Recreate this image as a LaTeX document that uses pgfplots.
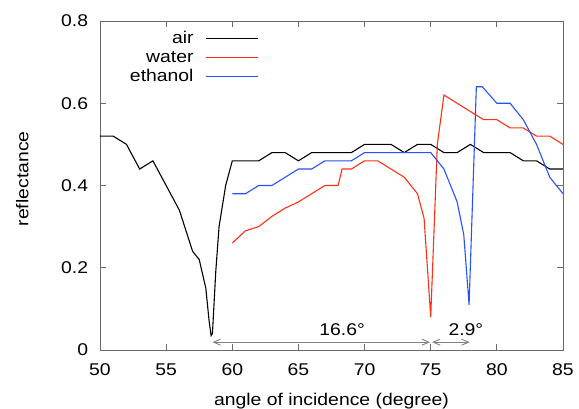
\documentclass[border=0pt]{standalone}
\usepackage{fontspec}
\setmainfont{Liberation Sans}[FakeStretch=1.14]
\usepackage{pgfplots}
\pgfplotsset{compat=1.18}
\usetikzlibrary{arrows.meta}
\definecolor{wred}{RGB}{255,48,20}
\definecolor{eblue}{RGB}{40,80,255}
\definecolor{framegray}{RGB}{105,105,105}
\definecolor{arrgray}{RGB}{128,128,128}
\begin{document}
\fontsize{17bp}{20bp}\selectfont
\begin{tikzpicture}[font=\fontsize{17bp}{20bp}\selectfont]
\begin{axis}[name=ax,
    scale only axis, width=463bp, height=329bp,
    xmin=50, xmax=85, ymin=0, ymax=0.8,
    xtick={50,55,60,65,70,75,80,85},
    ytick={0,0.2,0.4,0.6,0.8},
    /pgf/number format/assume math mode=true,
    tick align=inside, tick pos=both, major tick length=6bp,
    axis line style={framegray, line width=0.9bp},
    every tick/.style={framegray, line width=0.8bp},
    xticklabel style={yshift=-8bp},
    yticklabel style={xshift=-6bp},
    xlabel={angle of incidence (degree)},
    ylabel={reflectance},
    every axis x label/.style={at={(axis description cs:0.5,0)}, anchor=base, yshift=-56bp},
    every axis y label/.style={at={([xshift=-71.5bp]axis description cs:0,0.52)}, anchor=base, rotate=90},
    legend plot pos=right,
    legend cell align=right,
    legend image code/.code={\draw[#1] (0bp,0bp) -- (52bp,0bp);},
    legend style={at={(axis description cs:0.06,0.975)}, anchor=north west,
        draw=none, fill=none, inner sep=0pt, column sep=10bp,
        nodes={inner sep=2bp, text height=12bp, text depth=3bp}},
    every axis plot/.append style={line width=1.1bp},
]
\addplot[black] coordinates {
(50,0.52)(51,0.52)(52,0.50)(53,0.44)(54,0.46)(55,0.40)(56,0.34)(57,0.24)(57.5,0.22)
(58,0.15)(58.25,0.07)(58.4,0.035)(58.5,0.04)(58.75,0.19)(59,0.30)(59.5,0.40)(60,0.46)
(61,0.46)(62,0.46)(63,0.48)(64,0.48)(65,0.46)(66,0.48)(67,0.48)(68,0.48)(69,0.48)
(70,0.50)(71,0.50)(72,0.50)(73,0.48)(74,0.50)(75,0.50)(76,0.48)(77,0.48)(78,0.50)
(79,0.48)(80,0.48)(81,0.48)(82,0.46)(83,0.46)(84,0.44)(85,0.44)};
\addlegendentry{air}
\addplot[wred] coordinates {
(60,0.26)(61,0.29)(62,0.30)(63,0.325)(64,0.345)(65,0.36)(66,0.38)(67,0.40)(68,0.40)
(68.3,0.44)(69,0.44)(70,0.46)(71,0.46)(72,0.44)(73,0.42)(74,0.38)(74.5,0.32)(74.75,0.20)
(75,0.08)(75.5,0.50)(76,0.62)(77,0.60)(78,0.58)(79,0.56)(80,0.56)(81,0.54)(82,0.54)
(83,0.52)(84,0.52)(85,0.50)};
\addlegendentry{water}
\addplot[eblue] coordinates {
(60,0.38)(61,0.38)(62,0.40)(63,0.40)(64,0.42)(65,0.44)(66,0.44)(67,0.46)(68,0.46)
(69,0.46)(70,0.48)(71,0.48)(72,0.48)(73,0.48)(74,0.48)(75,0.48)(76,0.44)(77,0.36)
(77.5,0.28)(77.9,0.11)(78.45,0.64)(78.9,0.64)(80,0.60)(81,0.60)(82,0.56)(83,0.50)
(84,0.42)(85,0.38)};
\addlegendentry{ethanol}
\draw[arrgray, line width=0.9bp, {Straight Barb[length=7bp,width=6bp]}-{Straight Barb[length=7bp,width=6bp]}]
    (axis cs:58.5,0.019) -- (axis cs:74.95,0.019);
\draw[arrgray, line width=0.9bp, {Straight Barb[length=7bp,width=6bp]}-{Straight Barb[length=7bp,width=6bp]}]
    (axis cs:75.1,0.019) -- (axis cs:77.95,0.019);
\node at (axis cs:68.3,0.05) {16.6°};
\node at (axis cs:77.66,0.05) {2.9°};
\end{axis}
\pgfresetboundingbox
\path[use as bounding box] ([shift={(-100bp,-59bp)}]ax.south west) rectangle ([shift={(16bp,21bp)}]ax.north east);
\end{tikzpicture}
\end{document}
